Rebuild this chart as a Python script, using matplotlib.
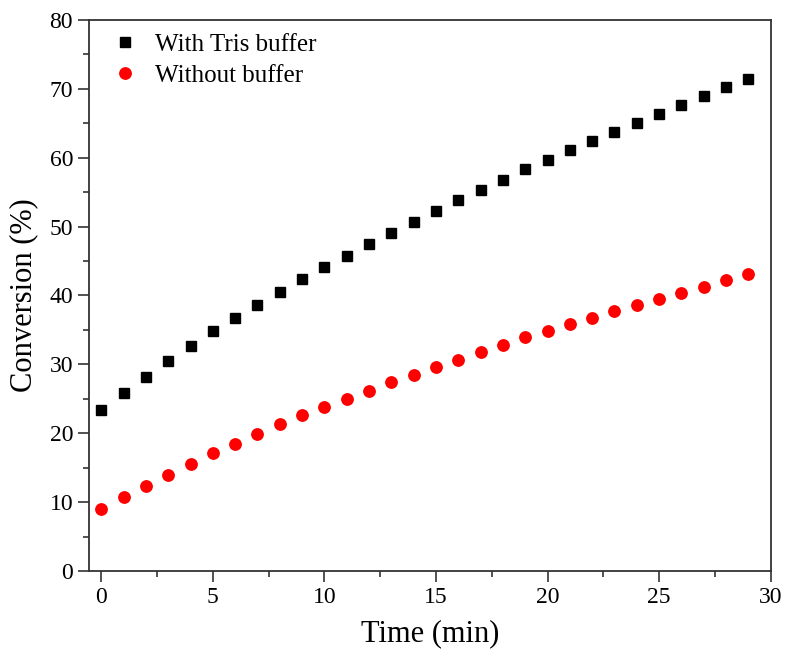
import matplotlib
matplotlib.use("Agg")
import matplotlib.pyplot as plt
from matplotlib.ticker import MultipleLocator

plt.rcParams['font.family'] = ['Liberation Serif', 'DejaVu Serif']

time_min = list(range(30))
with_tris = [23.4, 25.8, 28.2, 30.5, 32.7, 34.8, 36.8, 38.65, 40.5, 42.4,
             44.1, 45.8, 47.5, 49.1, 50.65, 52.2, 53.8, 55.3, 56.8, 58.3,
             59.7, 61.1, 62.4, 63.8, 65.1, 66.4, 67.7, 69.0, 70.2, 71.4]
without_buffer = [8.95, 10.7, 12.4, 14.0, 15.5, 17.1, 18.5, 19.9, 21.3, 22.6,
                  23.85, 25.0, 26.2, 27.4, 28.5, 29.65, 30.7, 31.8, 32.8, 33.9,
                  34.8, 35.8, 36.7, 37.7, 38.6, 39.5, 40.4, 41.3, 42.2, 43.1]

fig = plt.figure(figsize=(7.88, 6.53), dpi=100)
ax = fig.add_axes([0.113, 0.1256, 0.865, 0.8438])

ax.plot(time_min, with_tris, 's', color='black', markersize=7.5, label='With Tris buffer')
ax.plot(time_min, without_buffer, 'o', color='red', markersize=8.2, label='Without buffer')

ax.set_xlim(-0.55, 30)
ax.set_ylim(0, 80)
ax.xaxis.set_major_locator(MultipleLocator(5))
ax.xaxis.set_minor_locator(MultipleLocator(2.5))
ax.yaxis.set_major_locator(MultipleLocator(10))
ax.yaxis.set_minor_locator(MultipleLocator(5))

for s in ax.spines.values():
    s.set_linewidth(1.3)
    s.set_color('#333333')
ax.tick_params(which='major', direction='out', length=8, width=1.2, labelsize=17, color='#333333')
ax.tick_params(which='minor', direction='out', length=4, width=1.2, color='#333333')

ax.set_xlabel('Time (min)', fontsize=22, labelpad=8)
ax.set_ylabel('Conversion (%)', fontsize=22, labelpad=8)

ax.legend(loc='upper left', bbox_to_anchor=(0.005, 1.008), frameon=False, fontsize=18,
          handletextpad=0.6, borderaxespad=0.3, labelspacing=0.35, handlelength=1.2)

fig.savefig('out.png', dpi=100)
